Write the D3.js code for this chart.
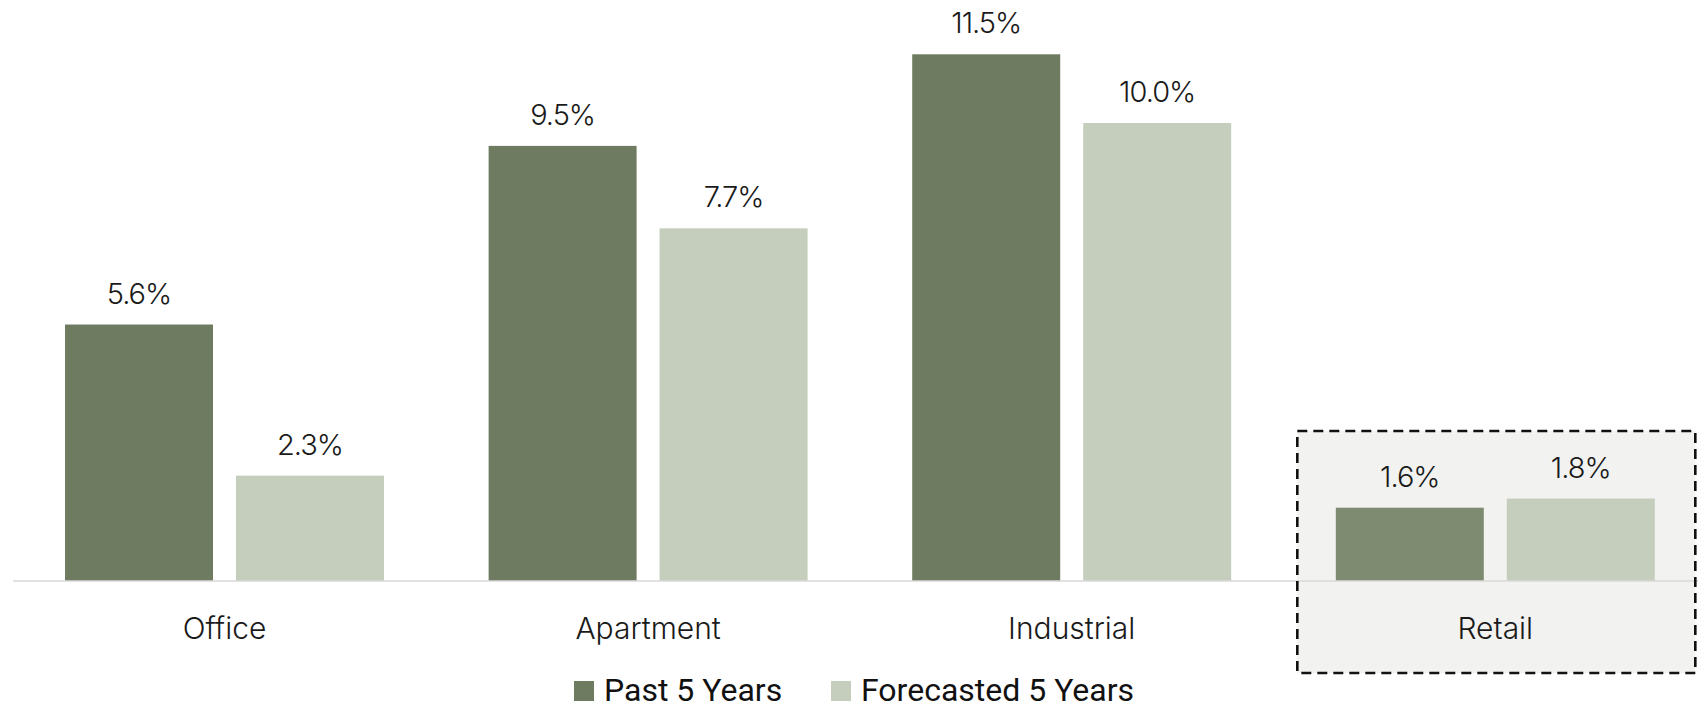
<!DOCTYPE html>
<html>
<head>
<meta charset="utf-8">
<script src="https://cdn.jsdelivr.net/npm/d3@7"></script>
<style>
  html, body { margin: 0; padding: 0; background: #ffffff; }
  svg { display: block; }
</style>
</head>
<body>
<svg id="chart" width="1698" height="710"></svg>
<script>
const categories = ["Office", "Apartment", "Industrial", "Retail"];
const seriesNames = ["Past 5 Years", "Forecasted 5 Years"];
const pastValues = [5.6, 9.5, 11.5, 1.6];
const forecastValues = [2.3, 7.7, 10.0, 1.8];
const highlighted = "Retail";

const W = 1698, H = 710;
const svg = d3.select("#chart");

const colors = { past: "#6e7b60", pastHi: "#7f8b71", forecast: "#c5cdbd" };
const baseline = 581;

const x = d3.scaleBand()
  .domain(categories)
  .range([12.7, 1707.1])
  .paddingInner(0.247)
  .paddingOuter(0.1235);

const xs = d3.scaleBand()
  .domain(["past", "forecast"])
  .range([0, x.bandwidth()])
  .paddingInner(0.1345)
  .paddingOuter(0);

const y = d3.scaleLinear().domain([0, 12]).range([baseline, baseline - 549.6]);

// Highlight box behind Retail
const hiX = x(highlighted);
svg.append("rect")
  .attr("x", hiX - 38.5)
  .attr("y", 431)
  .attr("width", 398)
  .attr("height", 242)
  .attr("fill", "#f2f2f0");

const data = categories.map((c, i) => ({ cat: c, past: pastValues[i], forecast: forecastValues[i] }));

const groups = svg.append("g").selectAll("g")
  .data(data).join("g")
  .attr("transform", d => `translate(${x(d.cat)},0)`);

groups.each(function(d) {
  const g = d3.select(this);
  [["past", d.past], ["forecast", d.forecast]].forEach(([k, v]) => {
    const fill = k === "past" ? (d.cat === highlighted ? colors.pastHi : colors.past) : colors.forecast;
    g.append("rect")
      .attr("x", xs(k))
      .attr("y", y(v))
      .attr("width", xs.bandwidth())
      .attr("height", y(0) - y(v))
      .attr("fill", fill);
    g.append("text")
      .attr("x", xs(k) + xs.bandwidth() / 2)
      .attr("y", y(v) - 21)
      .attr("text-anchor", "middle")
      .attr("font-family", "Inter, Lato, sans-serif")
      .attr("font-weight", 300)
      .attr("font-size", 29)
      .attr("letter-spacing", -1)
      .attr("fill", "#1a1a1a")
      .text(v.toFixed(1) + "%");
  });
});

// Baseline axis
const axis = svg.append("g").attr("transform", `translate(0,${baseline})`)
  .call(d3.axisBottom(x).tickSize(0).tickPadding(0));
axis.select(".domain").attr("stroke", "#d9d9d9").attr("stroke-width", 1.5)
  .attr("d", `M13,0H${W}`);
axis.selectAll(".tick text")
  .attr("y", 58)
  .attr("dy", 0)
  .attr("font-family", "Inter, Lato, sans-serif")
  .attr("font-weight", 300)
  .attr("font-size", 30)
  .attr("fill", "#1a1a1a");

// Dashed highlight border on top
svg.append("rect")
  .attr("x", hiX - 38.5)
  .attr("y", 431)
  .attr("width", 398)
  .attr("height", 242)
  .attr("fill", "none")
  .attr("stroke", "#111")
  .attr("stroke-width", 2.6)
  .attr("stroke-dasharray", "10,6");

// Legend
const legend = svg.append("g");
const legendItems = [
  { name: seriesNames[0], color: colors.past, x: 574 },
  { name: seriesNames[1], color: colors.forecast, x: 831 }
];
legendItems.forEach(it => {
  legend.append("rect").attr("x", it.x).attr("y", 681).attr("width", 20).attr("height", 20).attr("fill", it.color);
  legend.append("text")
    .attr("x", it.x + 30).attr("y", 701)
    .attr("font-family", "Roboto, sans-serif")
    .attr("font-size", 32)
    .attr("fill", "#111")
    .text(it.name);
});
</script>
</body>
</html>
